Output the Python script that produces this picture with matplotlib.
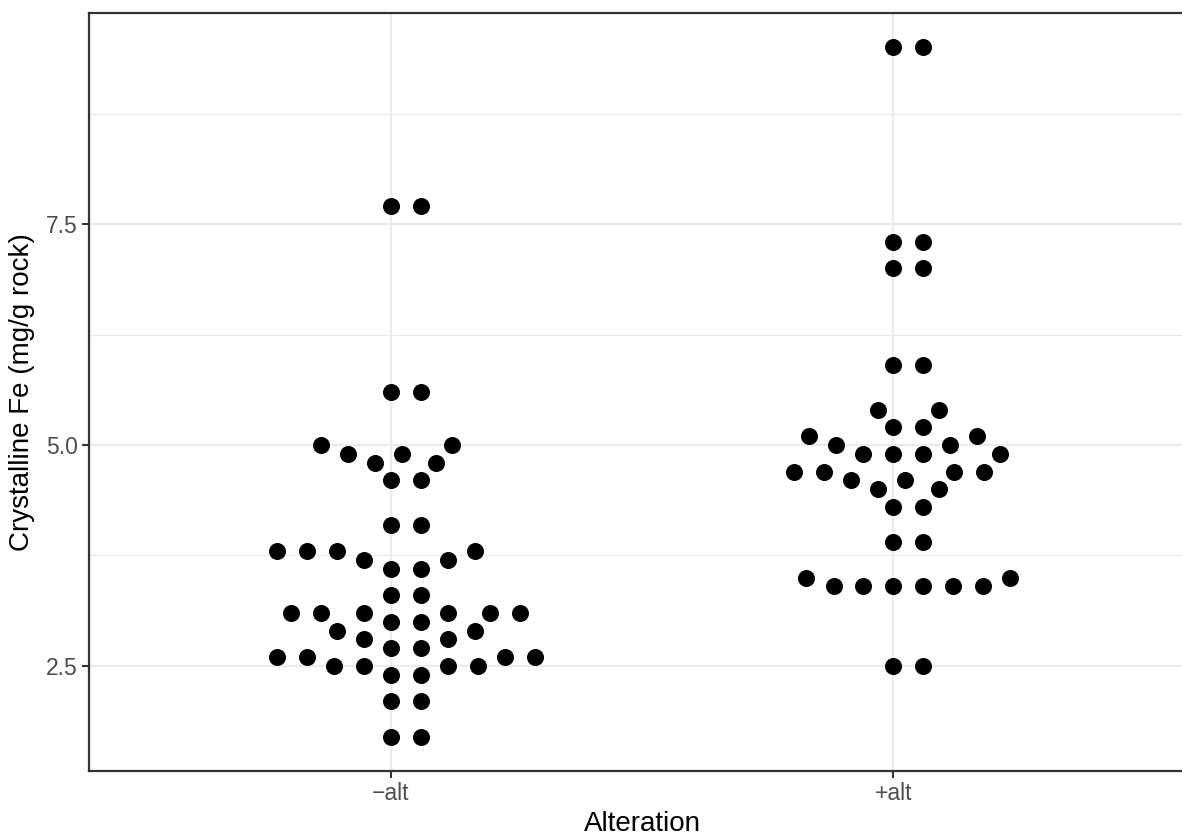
"""Beeswarm of crystalline Fe by alteration state."""

import numpy as np
import matplotlib
matplotlib.use('Agg')
import matplotlib.pyplot as plt

categories = ['\u2212alt', '+alt']

minus_alt = [
    1.7, 1.7, 2.1, 2.1, 2.4, 2.4, 2.5, 2.5, 2.5, 2.5,
    2.6, 2.6, 2.6, 2.6, 2.7, 2.7, 2.8, 2.8, 2.9, 2.9,
    3.0, 3.0, 3.1, 3.1, 3.1, 3.1, 3.1, 3.1, 3.3, 3.3,
    3.6, 3.6, 3.7, 3.7, 3.8, 3.8, 3.8, 3.8, 4.1, 4.1,
    4.6, 4.6, 4.8, 4.8, 4.9, 4.9, 5.0, 5.0, 5.6, 5.6,
    7.7, 7.7,
]

plus_alt = [
    2.5, 2.5, 3.4, 3.4, 3.4, 3.4, 3.4, 3.4, 3.5, 3.5,
    3.9, 3.9, 4.3, 4.3, 4.5, 4.5, 4.6, 4.6, 4.7, 4.7,
    4.7, 4.7, 4.9, 4.9, 4.9, 4.9, 5.0, 5.0, 5.1, 5.1,
    5.2, 5.2, 5.4, 5.4, 5.9, 5.9, 7.0, 7.0, 7.3, 7.3,
    9.5, 9.5,
]

groups = [minus_alt, plus_alt]

yticks = [2.5, 5.0, 7.5]
ytick_labels = ['2.5', '5.0', '7.5']
y_minor = [3.75, 6.25, 8.75]


def swarm_offsets(values, dsize):
    """Swarm layout (ascending priority), offsets in point widths."""
    vals = np.asarray(values, dtype=float) / dsize
    order = np.argsort(vals, kind='stable')
    xs = vals[order]
    ys = np.zeros(len(xs))
    for ii in range(1, len(xs)):
        xi = xs[ii]
        near = np.abs(xi - xs[:ii]) < 1
        if not near.any():
            ys[ii] = 0.0
            continue
        pre_x = xs[:ii][near]
        pre_y = ys[:ii][near]
        off = np.sqrt(1 - (xi - pre_x) ** 2)
        poty = np.concatenate([[0.0], pre_y + off, pre_y - off])
        bad = np.array([
            np.any((xi - pre_x) ** 2 + (y - pre_y) ** 2 < 0.999)
            for y in poty
        ])
        poty[bad] = np.inf
        ys[ii] = poty[np.argmin(np.abs(poty))]
    out = np.empty(len(xs))
    out[order] = ys
    return out


fig = plt.figure(figsize=(11.82, 8.38), dpi=100)
W, H = 1182, 838
left, right, top, bottom = 89, 1195, 13, 771
ax = fig.add_axes([left / W, 1 - bottom / H, (right - left) / W,
                   (bottom - top) / H])

point_w = 30 / 504  # one swarm step in category units
for i, vals in enumerate(groups):
    offs = swarm_offsets(vals, 0.234)
    ax.scatter(i + 1 + offs * point_w, vals, s=150, color='black',
               linewidths=0, zorder=3)

ax.set_xlim(0.4, 2.6)
ax.set_ylim(1.31, 9.89)
ax.set_xticks([1, 2])
ax.set_xticklabels(categories)
ax.set_yticks(yticks)
ax.set_yticklabels(ytick_labels)
ax.set_yticks(y_minor, minor=True)

ax.grid(True, which='major', color='#EBEBEB', linewidth=1.6, zorder=0)
ax.grid(True, which='minor', axis='y', color='#EBEBEB', linewidth=0.8,
        zorder=0)
ax.set_axisbelow(True)

for side in ax.spines.values():
    side.set_color('#333333')
    side.set_linewidth(1.6)

ax.tick_params(which='major', length=5, width=1.5, color='#333333',
               labelcolor='#4D4D4D', labelsize=16.5, pad=3)
ax.tick_params(which='minor', length=0)

font = ['Liberation Sans', 'DejaVu Sans']
for lab in ax.get_xticklabels() + ax.get_yticklabels():
    lab.set_family(font)

ax.set_xlabel('Alteration', fontsize=20, family=font, labelpad=4)
ax.set_ylabel('Crystalline Fe (mg/g rock)', fontsize=20, family=font,
              labelpad=8)

fig.savefig('out.png', dpi=100)
